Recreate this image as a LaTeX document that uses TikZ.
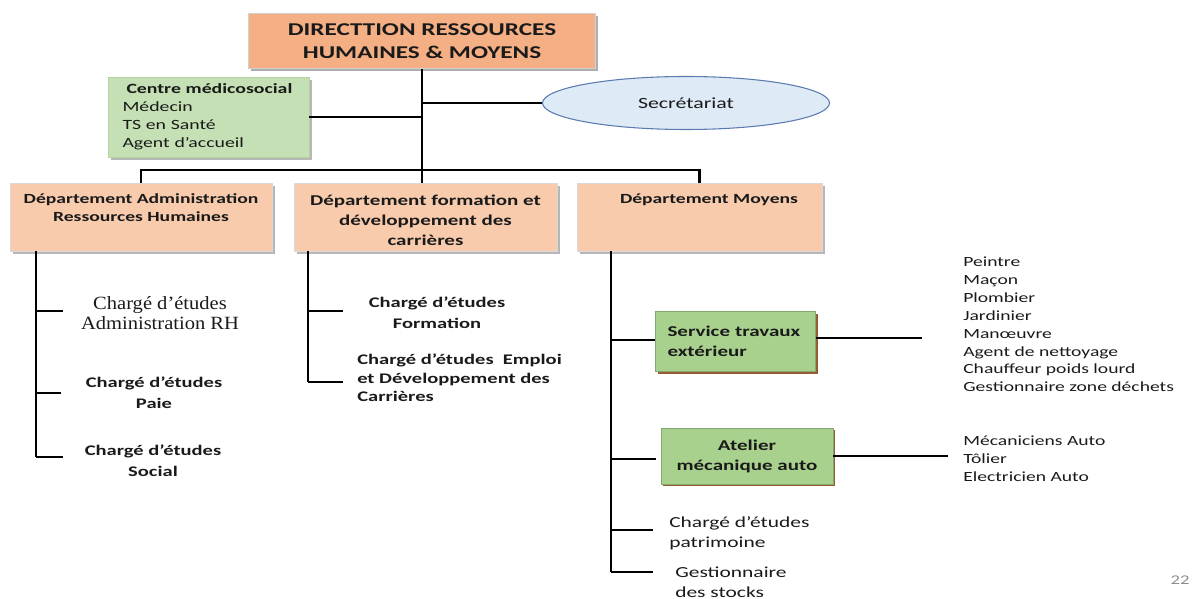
\documentclass[tikz,border=0pt]{standalone}
\usepackage{fontspec}
\setmainfont{Carlito}[FakeStretch=1.4]
\newfontfamily\serifA{Liberation Serif}[FakeStretch=1.1]
\usetikzlibrary{shapes.geometric,shadows}
\definecolor{topfill}{HTML}{F4B084}
\definecolor{deptfill}{HTML}{F8CBAD}
\definecolor{cmsfill}{HTML}{C5E0B4}
\definecolor{cmsborder}{HTML}{B5D3A0}
\definecolor{svcfill}{HTML}{A9D18E}
\definecolor{svcshadow}{HTML}{8B4A1C}
\definecolor{ellfill}{HTML}{DEEBF7}
\definecolor{ellborder}{HTML}{5B7BB0}
\definecolor{txt}{HTML}{1A1A1A}
\newcommand{\fsz}[2]{\fontsize{#1}{#2}\selectfont}
\begin{document}
\begin{tikzpicture}[x=0.75pt,y=-0.75pt,
  every node/.style={text=txt},
  topbox/.style={draw=black!18, line width=0.8pt, fill=topfill,
    minimum width=347*0.75pt, minimum height=55*0.75pt, inner sep=0pt,
    drop shadow={shadow xshift=2.2pt,shadow yshift=-2.2pt,fill=black!45,opacity=0.7},
    align=center, font=\fsz{13.5}{17.25}\bfseries},
  centrebox/.style={draw=cmsborder, line width=0.6pt, fill=cmsfill,
    minimum width=201*0.75pt, minimum height=80*0.75pt,
    inner xsep=10.9pt, inner ysep=0pt, text width=129pt, align=left,
    drop shadow={shadow xshift=2pt,shadow yshift=-2pt,fill=black!40,opacity=0.7},
    font=\fsz{10.6}{13.5}},
  ell/.style={ellipse, draw=ellborder, line width=0.8pt, fill=ellfill,
    minimum width=287*0.75pt, minimum height=53*0.75pt, inner sep=0pt,
    font=\fsz{11.7}{14}},
  deptbox/.style={draw=black!15, line width=0.5pt, fill=deptfill,
    minimum height=68*0.75pt, inner sep=0pt,
    drop shadow={shadow xshift=2.2pt,shadow yshift=-2.2pt,fill=black!40,opacity=0.7}},
  dtext/.style={inner sep=0pt, align=center, font=\fsz{10.5}{13.5}\bfseries},
  dtextb/.style={inner sep=0pt, align=center, font=\fsz{11.25}{15}\bfseries},
  bchild/.style={inner sep=0pt, align=center, font=\fsz{11}{16}\bfseries},
  sertext/.style={inner sep=0pt, align=center, font=\serifA\fsz{14}{15}},
  svc/.style={draw=svcfill!80!black, line width=0.4pt, fill=svcfill, inner sep=0pt,
    drop shadow={shadow xshift=1.8pt,shadow yshift=-1.8pt,fill=svcshadow,opacity=0.9},
    font=\fsz{11.25}{15}\bfseries},
  listtext/.style={inner sep=0pt, align=left, font=\fsz{10.5}{13.4}},
  rtext/.style={inner sep=0pt, align=left, font=\fsz{11.5}{15}},
  trunk/.style={draw=black, line width=2pt},
  conn/.style={draw=black, line width=1.3pt}
]
\useasboundingbox (0,0) rectangle (1192,599);

% top
\node[topbox] (dir) at (422,41) {DIRECTTION RESSOURCES\\HUMAINES \& MOYENS};
\node[centrebox] (cms) at (208.5,117) {\hspace*{3pt}\textbf{Centre médicosocial}\\Médecin\\TS en Santé\\Agent d’accueil};
\node[ell] (sec) at (686,103) {Secrétariat};

% departments
\node[deptbox, minimum width=262*0.75pt] (d1) at (141,217) {};
\node[deptbox, minimum width=263*0.75pt] (d2) at (425.5,217) {};
\node[deptbox, minimum width=245*0.75pt] (d3) at (699.5,217) {};
\node[dtext] (d1t) at (141,208) {Département Administration\\Ressources Humaines};
\node[dtextb] (d2t) at (425.5,220) {Département formation et\\développement des\\carrières};
\node[dtext] (d3t) at (709,200) {Département Moyens};

% main trunk
\coordinate (s1) at (141,170);
\coordinate (s3) at (699.5,170);
\draw[trunk] (dir.south) -- (dir.south |- d2.north);
\draw[conn] (cms.east) -- (cms.east -| dir.south);
\draw[conn] (sec.west) -- (sec.west -| dir.south);
\draw[trunk, line width=1.7pt] (d1.north) -- (s1) -- (s3) -- (d3.north);

% department 1 branch
\coordinate (b1) at (36,457);
\coordinate (t11) at (36,311);
\coordinate (t12) at (36,393);
\draw[trunk] (d1.south -| b1) -- (b1);
\draw[conn] (t11) -- ++(27,0);
\draw[conn] (t12) -- ++(25,0);
\draw[conn] (b1) -- ++(27,0);
\node[sertext] (c11) at (160,313) {Chargé d’études\\Administration RH};
\node[bchild] (c12) at (154,393) {Chargé d’études\\Paie};
\node[bchild] (c13) at (153,461) {Chargé d’études\\Social};

% department 2 branch
\coordinate (b2) at (308,382);
\coordinate (t21) at (308,311);
\draw[trunk] (d2.south -| b2) -- (b2);
\draw[conn] (t21) -- ++(35,0);
\draw[conn] (b2) -- ++(35,0);
\node[bchild] (c21) at (437,313) {Chargé d’études\\Formation};
\node[bchild, align=left, font=\fsz{11}{14}\bfseries, anchor=west] (c22) at (357,378) {Chargé d’études\ \ Emploi\\et Développement des\\Carrières};

% department 3 branch
\node[svc, minimum width=160*0.75pt, minimum height=60*0.75pt, text width=102pt, align=left] (svc) at (735.5,341.5) {Service travaux\\extérieur};
\node[svc, minimum width=172*0.75pt, minimum height=56*0.75pt, align=center] (atl) at (747,456) {Atelier\\mécanique auto};
\coordinate (b3) at (611,572);
\coordinate (t31) at (611,340);
\coordinate (t32) at (611,459);
\coordinate (t33) at (611,530);
\draw[trunk] (d3.south -| b3) -- (b3);
\draw[conn] (t31) -- (t31 -| svc.west);
\draw[conn] (t32) -- ++(45,0);
\draw[conn] (t33) -- ++(42,0);
\draw[conn] (b3) -- ++(42,0);
\coordinate (e1) at (922,338);
\coordinate (e2) at (948,456);
\draw[conn] (svc.east |- e1) -- (e1);
\draw[conn] (atl.east |- e2) -- (e2);

\node[listtext, anchor=west] (l1) at (963,324.5) {Peintre\\Maçon\\Plombier\\Jardinier\\Manœuvre\\Agent de nettoyage\\Chauffeur poids lourd\\Gestionnaire zone déchets};
\node[listtext, anchor=west] (l2) at (963,459) {Mécaniciens Auto\\Tôlier\\Electricien Auto};
\node[rtext, anchor=west] (c33) at (669,533) {Chargé d’études\\patrimoine};
\node[rtext, anchor=west] (c34) at (675,582) {Gestionnaire\\des stocks};

\node[inner sep=0pt, text=black!45, font=\fsz{10}{12}] (pg) at (1180,580) {22};
\end{tikzpicture}
\end{document}
